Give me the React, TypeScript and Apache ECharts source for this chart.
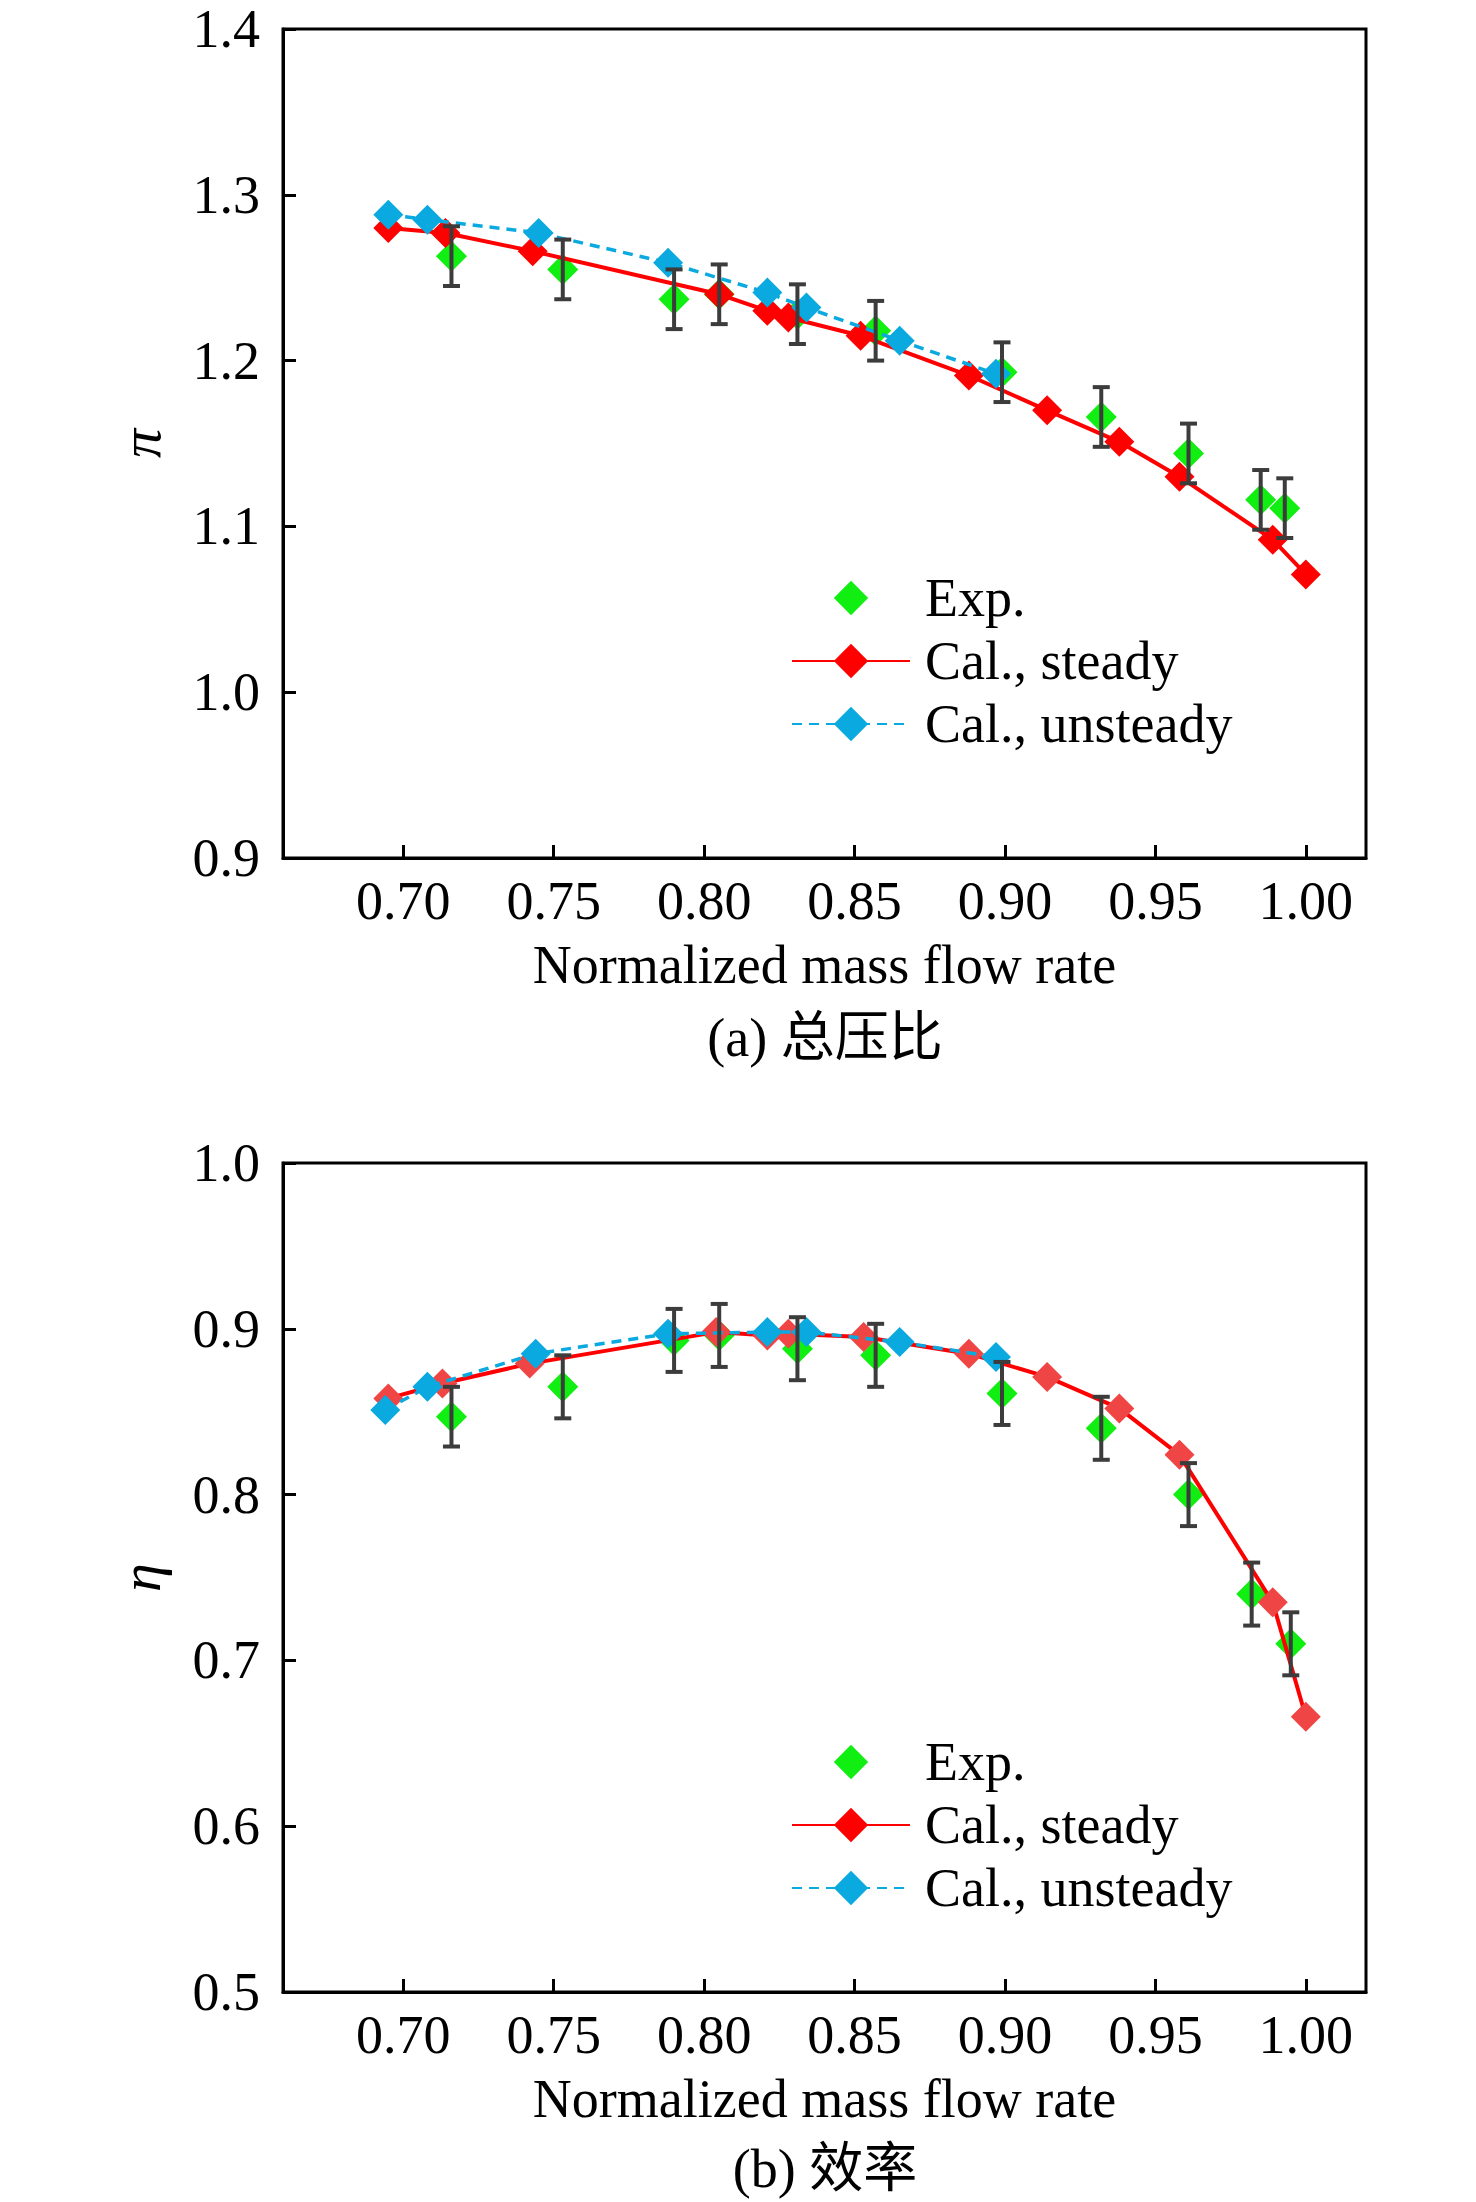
import React, { useEffect, useRef } from 'react';
import * as echarts from 'echarts';

// x tick labels (normalized mass flow rate)
const flowTicks = [0.7, 0.75, 0.8, 0.85, 0.9, 0.95, 1.0];

// (a) total pressure ratio
const expFlowA = [0.716, 0.753, 0.790, 0.805, 0.831, 0.857, 0.899, 0.932, 0.961, 0.985, 0.993];
const expPi = [1.263, 1.255, 1.237, 1.240, 1.228, 1.218, 1.193, 1.166, 1.144, 1.116, 1.111];
const expPiErr = [0.018, 0.018, 0.018, 0.018, 0.018, 0.018, 0.018, 0.018, 0.018, 0.018, 0.018];
const steadyFlowA = [0.695, 0.714, 0.743, 0.805, 0.821, 0.828, 0.852, 0.888, 0.914, 0.938, 0.958, 0.989, 1.0];
const steadyPi = [1.280, 1.277, 1.266, 1.240, 1.230, 1.226, 1.215, 1.191, 1.170, 1.151, 1.130, 1.092, 1.071];
const unsteadyFlowA = [0.695, 0.708, 0.745, 0.788, 0.821, 0.834, 0.865, 0.897];
const unsteadyPi = [1.288, 1.285, 1.277, 1.259, 1.241, 1.232, 1.212, 1.192];

// (b) efficiency
const expFlowB = [0.716, 0.753, 0.790, 0.805, 0.831, 0.857, 0.899, 0.932, 0.961, 0.982, 0.995];
const expEta = [0.847, 0.865, 0.893, 0.896, 0.888, 0.884, 0.861, 0.840, 0.800, 0.740, 0.710];
const expEtaErr = [0.018, 0.019, 0.019, 0.019, 0.019, 0.019, 0.019, 0.019, 0.019, 0.019, 0.019];
const steadyFlowB = [0.695, 0.713, 0.742, 0.804, 0.821, 0.828, 0.853, 0.888, 0.914, 0.938, 0.958, 0.989, 1.0];
const steadyEta = [0.858, 0.867, 0.879, 0.898, 0.896, 0.897, 0.895, 0.885, 0.871, 0.852, 0.824, 0.735, 0.666];
const unsteadyFlowB = [0.694, 0.708, 0.744, 0.788, 0.821, 0.834, 0.865, 0.897];
const unsteadyEta = [0.851, 0.865, 0.885, 0.897, 0.898, 0.898, 0.892, 0.883];

const FONT = "'Liberation Serif', 'Times New Roman', 'Noto Sans CJK SC', serif";
const GREEN = '#11ee11';
const RED = '#ff0000';
const BLUE = '#0aa9df';
const BAR = '#3c3c3c';

const zip = (xs: number[], ys: number[]) => xs.map((x, i) => [x, ys[i]]);

const errorBars = (xs: number[], ys: number[], errs: number[]) =>
  xs.map((x, i) => [x, ys[i] - errs[i], ys[i] + errs[i]]);

const renderErrorBar = (params: any, api: any) => {
  const x = api.value(0);
  const lo = api.coord([x, api.value(1)]);
  const hi = api.coord([x, api.value(2)]);
  const half = 8.5;
  const style = { stroke: BAR, lineWidth: 4 };
  return {
    type: 'group',
    children: [
      { type: 'line', shape: { x1: hi[0], y1: hi[1], x2: lo[0], y2: lo[1] }, style },
      { type: 'line', shape: { x1: hi[0] - half, y1: hi[1], x2: hi[0] + half, y2: hi[1] }, style },
      { type: 'line', shape: { x1: lo[0] - half, y1: lo[1], x2: lo[0] + half, y2: lo[1] }, style },
    ],
  };
};

const App: React.FC = () => {
  const chartref = useRef<HTMLDivElement>(null);
  useEffect(() => {
    const myChart = echarts.init(chartref.current as HTMLDivElement, null, { renderer: 'svg' });

    const grids = [
      { left: 283, top: 29, width: 1083, height: 829 },
      { left: 283, top: 1163, width: 1083, height: 829 },
    ].map((g) => ({ ...g, show: true, borderColor: '#000', borderWidth: 3, containLabel: false }));

    const xAxisFor = (gridIndex: number) => ({
      type: 'value',
      gridIndex,
      min: 0.66,
      max: 1.02,
      name: 'Normalized mass flow rate',
      nameLocation: 'middle',
      nameGap: 80,
      nameTextStyle: { fontFamily: FONT, fontSize: 54, color: '#000' },
      axisLine: { show: true, lineStyle: { color: '#000', width: 3 } },
      axisTick: { show: true, inside: true, length: 13, lineStyle: { color: '#000', width: 3 }, customValues: flowTicks },
      axisLabel: {
        fontFamily: FONT,
        fontSize: 54,
        color: '#000',
        margin: 16,
        customValues: flowTicks,
        formatter: (v: number) => v.toFixed(2),
      },
      splitLine: { show: false },
    });

    const yAxisFor = (gridIndex: number, min: number, max: number, name: string) => ({
      type: 'value',
      gridIndex,
      min,
      max,
      interval: 0.1,
      name,
      nameLocation: 'middle',
      nameGap: 114,
      nameTextStyle: { fontFamily: FONT, fontSize: 58, fontStyle: 'italic', color: '#000' },
      axisLine: { show: true, lineStyle: { color: '#000', width: 3 } },
      axisTick: { show: true, inside: true, length: 13, lineStyle: { color: '#000', width: 3 } },
      axisLabel: {
        fontFamily: FONT,
        fontSize: 54,
        color: '#000',
        margin: 23,
        formatter: (v: number) => v.toFixed(1),
      },
      splitLine: { show: false },
    });

    const seriesFor = (
      idx: number,
      expX: number[],
      expY: number[],
      expErr: number[],
      stX: number[],
      stY: number[],
      unX: number[],
      unY: number[],
      steadyMarker: string
    ) => [
      {
        // drawn as a line series with a hidden line so its legend diamond matches the others
        name: 'Exp.',
        type: 'line',
        xAxisIndex: idx,
        yAxisIndex: idx,
        symbol: 'diamond',
        symbolSize: 31,
        showAllSymbol: true,
        itemStyle: { color: GREEN },
        lineStyle: { color: GREEN, width: 0, opacity: 0 },
        data: zip(expX, expY),
        z: 2,
      },
      {
        name: 'Cal., steady',
        type: 'line',
        xAxisIndex: idx,
        yAxisIndex: idx,
        symbol: 'diamond',
        symbolSize: 30,
        showAllSymbol: true,
        itemStyle: { color: RED },
        lineStyle: { color: RED, width: 4 },
        data: zip(stX, stY).map((v) => ({ value: v, itemStyle: { color: steadyMarker } })),
        z: 3,
      },
      {
        name: 'Cal., unsteady',
        type: 'line',
        xAxisIndex: idx,
        yAxisIndex: idx,
        symbol: 'diamond',
        symbolSize: 30,
        showAllSymbol: true,
        itemStyle: { color: BLUE },
        lineStyle: { color: BLUE, width: 3.5, type: [10, 7] },
        data: zip(unX, unY),
        z: 4,
      },
      {
        name: 'error',
        type: 'custom',
        xAxisIndex: idx,
        yAxisIndex: idx,
        renderItem: renderErrorBar,
        encode: { x: 0, y: [1, 2] },
        data: errorBars(expX, expY, expErr),
        z: 5,
      },
    ];

    const legendFor = (top: number) => ({
      orient: 'vertical',
      left: 786,
      top,
      itemWidth: 118,
      itemHeight: 43,
      itemGap: 9,
      data: ['Exp.', 'Cal., steady', 'Cal., unsteady'],
      textStyle: { fontFamily: FONT, fontSize: 54, color: '#000', padding: [0, 0, 0, 10] },
    });

    const caption = (text: string, y: number) => ({
      type: 'text',
      x: 825,
      y,
      style: {
        text,
        fill: '#000',
        font: `54px ${FONT}`,
        textAlign: 'center',
        textVerticalAlign: 'middle',
      },
    });

    const option: any = {
      animation: false,
      backgroundColor: '#fff',
      grid: grids,
      xAxis: [xAxisFor(0), xAxisFor(1)],
      yAxis: [yAxisFor(0, 0.9, 1.4, 'π'), yAxisFor(1, 0.5, 1.0, 'η')],
      legend: [legendFor(566), legendFor(1730)],
      series: [
        ...seriesFor(0, expFlowA, expPi, expPiErr, steadyFlowA, steadyPi, unsteadyFlowA, unsteadyPi, RED),
        ...seriesFor(1, expFlowB, expEta, expEtaErr, steadyFlowB, steadyEta, unsteadyFlowB, unsteadyEta, '#f04545'),
      ],
      graphic: [caption('(a) 总压比', 1038), caption('(b) 效率', 2169)],
    };
    myChart.setOption(option);

    return () => {
      myChart.dispose();
    };
  }, []);

  return (
    <div
      ref={chartref}
      style={{ position: 'absolute', left: 0, top: 0, width: 1476, height: 2202 }}
    />
  );
};
export default App;
